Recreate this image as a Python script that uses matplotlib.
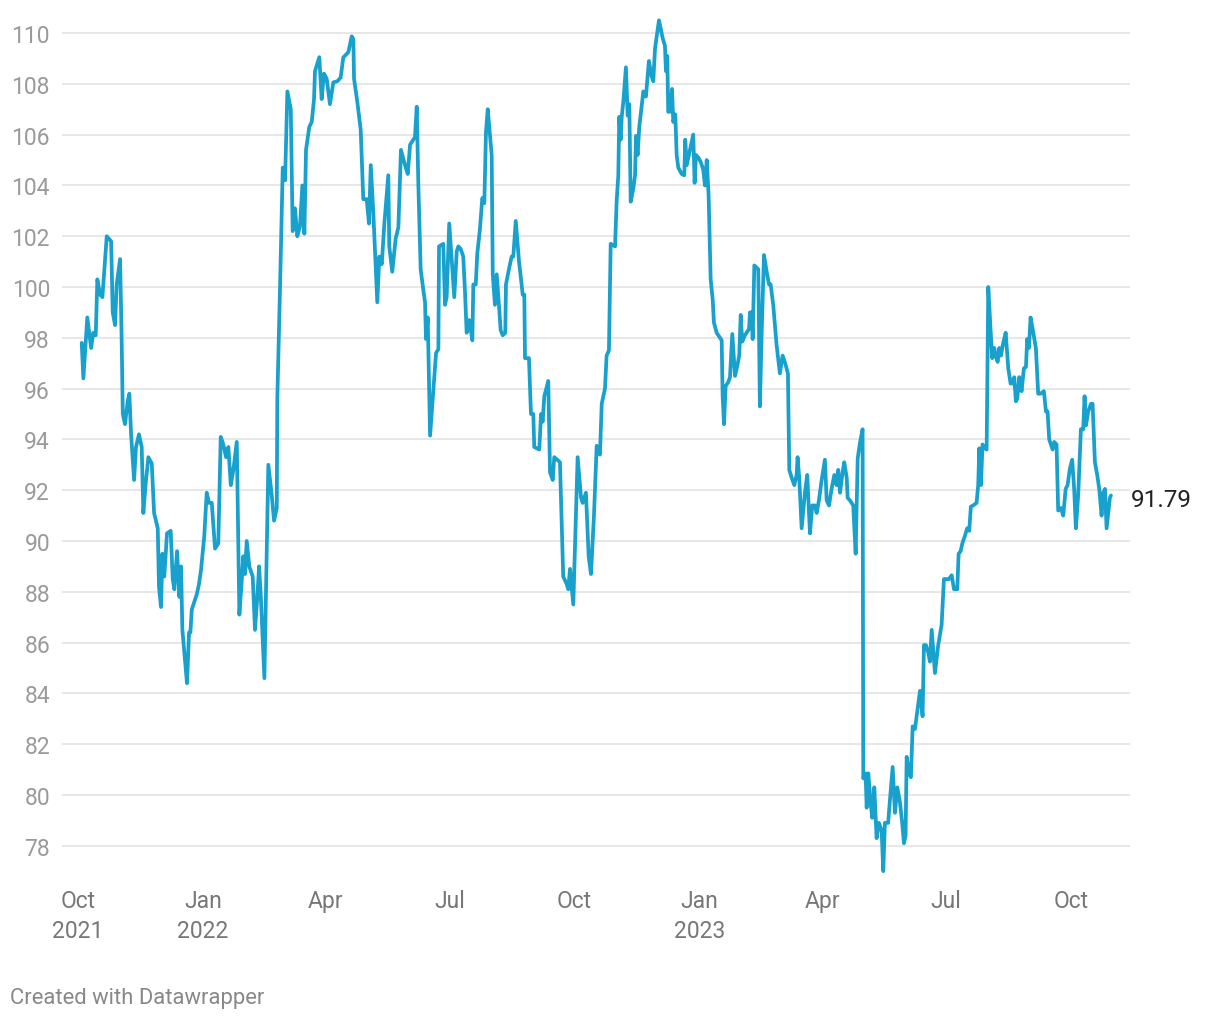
import pandas as pd
import matplotlib.pyplot as plt

plt.rcParams['font.family'] = ['Roboto', 'DejaVu Sans']

start = pd.Timestamp('2021-10-01')

# days after 1 Oct 2021
days = [
    2.7, 3.9, 6.8, 9.6, 11.2, 13.0, 14.2, 16.2, 17.9, 21.1, 24.3, 25.5, 27.2, 28.4, 30.9,
    32.1, 32.9, 34.5, 36.5, 37.7, 39.0, 41.2, 42.6, 44.8, 46.8, 48.0, 49.8, 51.7, 54.2, 55.9,
    58.6, 59.5, 61.0, 62.0, 63.4, 65.4, 68.1, 69.6, 70.8, 72.8, 74.5, 75.7, 76.7, 80.1, 81.6,
    82.6, 83.6, 87.3, 88.9, 90.4, 92.8, 94.6, 96.3, 98.3, 100.7, 103.1, 104.9, 106.8, 108.8,
    110.5, 112.3, 114.2, 116.7, 118.6, 120.3, 121.5, 122.8, 124.0, 125.9, 128.4, 130.1, 131.8,
    133.1, 134.3, 137.0, 139.9, 142.4, 144.1, 146.1, 146.5, 148.5, 150.5, 152.2, 153.9, 156.4,
    157.8, 159.5, 161.2, 163.2, 164.9, 166.4, 167.6, 170.0, 171.8, 173.5, 174.2, 177.4, 179.1,
    180.8, 182.8, 185.2, 187.7, 190.6, 193.1, 195.0, 198.7, 201.2, 202.4, 202.9, 205.3, 207.8,
    209.7, 212.2, 213.9, 215.2, 217.1, 220.0, 221.5, 223.3, 225.2, 228.1, 228.8, 231.0, 233.5,
    235.5, 237.4, 240.4, 242.4, 244.1, 246.5, 247.7, 249.0, 250.2, 251.9, 253.8, 255.1, 255.8,
    257.1, 258.8, 261.2, 263.2, 264.9, 265.4, 268.5, 269.8, 271.0, 272.9, 274.7, 276.6, 278.4,
    279.6, 281.3, 283.2, 284.5, 285.7, 287.6, 289.9, 290.6, 292.4, 293.5, 295.5, 297.2, 298.7,
    299.9, 301.2, 304.1, 304.9, 306.5, 307.8, 309.7, 310.7, 312.2, 314.1, 314.6, 316.8, 318.8,
    320.0, 321.8, 324.2, 325.7, 326.9, 328.1, 328.6, 331.5, 333.0, 334.7, 335.4, 339.1, 340.4,
    341.6, 342.8, 345.7, 347.0, 349.0, 350.1, 352.3, 354.3, 356.7, 359.3, 360.4, 361.7, 364.1,
    367.3, 369.8, 371.0, 373.4, 375.4, 377.1, 379.3, 381.3, 383.7, 385.0, 387.4, 388.6, 390.3,
    391.6, 394.8, 396.0, 397.2, 397.9, 398.9, 399.7, 400.9, 402.8, 404.1, 405.3, 406.3, 408.2,
    409.5, 410.2, 411.4, 412.6, 413.9, 415.6, 417.5, 419.7, 421.7, 422.9, 424.2, 427.1, 429.8,
    431.5, 432.2, 433.2, 433.9, 435.2, 436.7, 437.6, 439.1, 440.1, 441.3, 443.8, 445.7, 446.4,
    447.5, 449.9, 452.3, 453.3, 454.3, 456.0, 458.0, 459.7, 460.9, 462.2, 463.6, 465.1, 466.6,
    467.5, 469.5, 473.2, 473.9, 474.9, 476.1, 478.0, 479.3, 481.0, 483.0, 484.7, 486.1, 487.2,
    488.3, 490.3, 493.3, 494.0, 495.2, 496.0, 497.2, 500.1, 501.3, 502.6, 504.3, 506.3, 508.0,
    509.2, 511.1, 513.6, 516.0, 518.0, 519.9, 521.9, 522.9, 524.6, 526.6, 528.3, 529.0, 530.2,
    532.0, 534.4, 536.1, 538.1, 539.8, 541.8, 543.0, 544.7, 546.7, 549.1, 550.4, 552.1, 554.0,
    556.0, 557.7, 558.9, 560.2, 562.1, 563.3, 565.1, 565.8, 567.5, 569.9, 571.7, 573.2, 574.8,
    576.8, 577.3, 579.0, 579.8, 581.0, 582.7, 583.9, 585.4, 587.1, 588.8, 590.8, 592.0, 593.2,
    595.6, 596.9, 598.9, 600.6, 602.3, 604.3, 605.9, 607.2, 608.4, 609.2, 610.9, 612.3, 613.6,
    615.3, 617.3, 619.0, 620.9, 621.9, 623.4, 625.1, 626.3, 627.6, 630.0, 632.4, 634.9, 636.6,
    638.6, 640.3, 642.3, 644.0, 646.4, 647.4, 648.9, 650.1, 652.0, 653.7, 655.2, 656.4, 658.1,
    660.6, 661.8, 662.6, 663.8, 665.0, 666.7, 668.0, 669.2, 670.9, 672.1, 673.6, 674.8, 676.1,
    677.3, 678.5, 680.2, 682.0, 683.9, 685.6, 686.8, 688.3, 689.5, 690.5, 692.0, 693.7, 695.4,
    696.9, 697.8, 699.1, 700.3, 702.3, 704.2, 705.9, 707.7, 710.1, 711.6, 712.8, 714.0, 716.5,
    717.7, 719.4, 720.6, 722.6, 724.3, 726.1, 727.5, 729.2, 730.9, 732.4, 733.6, 735.3, 737.3,
    739.0, 740.0, 741.0, 742.7, 744.7, 745.9, 747.6, 749.3, 750.8, 752.5, 753.7, 755.0, 756.2,
    758.6, 759.4,
]

values = [
    97.8, 96.4, 98.8, 97.6, 98.2, 98.1, 100.3, 99.7, 99.6, 102.0, 101.8, 99.0, 98.5, 100.1, 101.1,
    97.8, 95.0, 94.6, 95.5, 95.8, 94.2, 92.4, 93.7, 94.2, 93.7, 91.1, 92.3, 93.3, 93.05, 91.1,
    90.5, 88.2, 87.4, 89.5, 88.6, 90.3, 90.4, 88.5, 88.1, 89.6, 87.8, 89.0, 86.5, 84.4, 86.4,
    86.4, 87.3, 87.9, 88.3, 88.85, 90.2, 91.9, 91.5, 91.5, 89.7, 89.9, 94.1, 93.8, 93.3,
    93.7, 92.2, 92.8, 93.9, 87.1, 88.4, 89.4, 88.7, 90.0, 89.0, 88.6, 86.5, 87.8,
    89.0, 87.9, 84.6, 93.0, 91.8, 90.8, 91.3, 95.6, 100.0, 104.7, 104.2, 107.7, 107.0,
    102.2, 103.1, 102.0, 102.4, 104.0, 102.1, 105.4, 106.3, 106.5, 107.4, 108.5, 109.05, 107.4,
    108.4, 108.2, 107.2, 108.06, 108.1, 108.25, 109.04, 109.24, 109.87, 109.76, 108.2, 107.3, 106.2,
    103.46, 103.46, 102.5, 104.8, 102.9, 99.4, 101.2, 100.9, 102.5, 104.4, 101.6, 100.6, 101.9,
    102.35, 105.4, 104.8, 104.45, 105.6, 105.8, 105.9, 107.1, 104.0, 100.7, 99.9, 99.4, 97.95,
    98.8, 94.15, 95.9, 97.4, 97.55, 101.6, 101.7, 99.3, 99.6, 102.5, 101.1, 99.6, 101.4,
    101.6, 101.5, 101.2, 99.8, 98.2, 98.7, 97.9, 100.1, 100.1, 101.3, 102.3, 103.5, 103.3,
    106.1, 107.0, 105.2, 100.5, 99.3, 100.5, 99.1, 98.3, 98.1, 98.2, 100.1, 100.7, 101.2,
    101.2, 102.6, 101.0, 100.3, 99.7, 99.7, 97.2, 97.2, 95.0, 95.0, 93.7, 93.6, 95.0,
    94.7, 95.7, 96.3, 92.7, 92.4, 93.3, 93.2, 93.1, 88.6, 88.3, 88.1, 88.9, 87.5,
    93.3, 91.7, 91.5, 91.9, 89.4, 88.7, 91.0, 93.75, 93.4, 95.4, 96.0, 97.3, 97.5,
    101.7, 101.6, 103.4, 104.4, 106.7, 105.8, 106.7, 107.3, 108.65, 106.75, 107.2, 103.36, 103.86,
    104.4, 105.95, 105.2, 106.3, 106.9, 107.7, 107.5, 108.9, 108.3, 108.1, 109.4, 110.5, 109.8,
    109.5, 108.5, 109.1, 106.9, 106.9, 107.8, 106.5, 106.8, 105.2, 104.7, 104.45, 104.4, 105.8,
    104.8, 105.4, 106.0, 104.1, 105.2, 105.1, 104.9, 104.6, 104.0, 105.0, 103.6, 100.3, 99.5,
    98.6, 98.2, 97.9, 95.7, 94.6, 96.1, 96.25, 96.45, 98.15, 96.5, 96.9, 97.3, 98.9,
    97.85, 98.1, 98.35, 99.0, 99.0, 97.95, 100.85, 100.7, 95.3, 98.2, 101.26, 100.6, 100.1,
    100.1, 99.3, 97.7, 96.6, 97.3, 97.0, 96.6, 92.8, 92.5, 92.2, 92.6, 93.3, 92.5,
    90.5, 91.9, 92.6, 90.3, 91.4, 91.4, 91.1, 91.6, 92.4, 93.2, 91.6, 91.4, 92.05,
    92.6, 92.2, 92.8, 91.9, 92.7, 93.1, 92.5, 91.7, 91.6, 91.4, 89.5, 93.25, 93.85,
    94.4, 80.65, 80.85, 79.5, 80.85, 79.7, 79.1, 80.3, 78.3, 78.9, 78.6, 77.0, 78.9,
    78.9, 79.8, 81.1, 79.3, 80.3, 79.7, 78.9, 78.1, 78.4, 81.5, 80.85, 80.7, 82.7,
    82.6, 83.4, 84.1, 83.1, 85.9, 85.9, 85.6, 85.25, 86.5, 84.8, 85.9, 86.7, 88.5,
    88.5, 88.5, 88.65, 88.1, 88.1, 89.5, 89.6, 89.9, 90.2, 90.5, 90.4, 91.35, 91.4,
    91.5, 92.2, 93.65, 92.2, 93.8, 93.65, 93.6, 100.0, 98.3, 97.2, 97.6, 97.25, 97.05,
    97.6, 97.3, 97.8, 98.2, 96.8, 96.2, 96.2, 96.45, 95.5, 95.6, 96.45, 95.9, 96.8,
    96.85, 97.95, 97.6, 98.8, 98.2, 97.6, 95.8, 95.8, 95.9, 95.1, 95.1, 94.0, 93.6,
    93.9, 93.8, 91.2, 91.3, 91.0, 92.05, 92.2, 92.85, 93.2, 92.0, 90.5, 91.8, 94.4,
    94.4, 95.7, 94.55, 95.1, 95.4, 95.4, 93.1, 92.6, 92.05, 91.0, 91.9, 92.05, 90.5,
    91.7, 91.79,
]

tick_dates = ['2021-10-01', '2022-01-01', '2022-04-01', '2022-07-01', '2022-10-01',
              '2023-01-01', '2023-04-01', '2023-07-01', '2023-10-01']
tick_labels = ['Oct\n2021', 'Jan\n2022', 'Apr', 'Jul', 'Oct', 'Jan\n2023', 'Apr', 'Jul', 'Oct']
y_ticks = [78, 80, 82, 84, 86, 88, 90, 92, 94, 96, 98, 100, 102, 104, 106, 108, 110]

dates = start + pd.to_timedelta(days, unit='D')

fig = plt.figure(figsize=(12.2, 10.2), dpi=100)
ax = fig.add_axes([62 / 1220, 1 - 874.7 / 1020, 1068 / 1220, (874.7 - 18.8) / 1020])

ax.plot(dates, values, color='#18a1cd', lw=2.7, solid_joinstyle='round', solid_capstyle='round')

ax.set_xlim(start - pd.Timedelta(days=11.8), start + pd.Timedelta(days=773.4))
ax.set_ylim(76.9, 110.6)

ax.set_yticks(y_ticks)
ax.set_yticklabels([str(v) for v in y_ticks])
ax.set_xticks(pd.to_datetime(tick_dates))
ax.set_xticklabels(tick_labels, linespacing=1.4)

ax.grid(axis='y', color='#e3e3e3', lw=1.2)
ax.set_axisbelow(True)
for s in ax.spines.values():
    s.set_visible(False)

ax.tick_params(axis='y', length=0, pad=8.6, labelsize=16.5, labelcolor='#9a9a9a')
ax.tick_params(axis='x', length=0, pad=11, labelsize=16.5, labelcolor='#777777')

ax.annotate(f'{values[-1]:.2f}', xy=(dates[-1], values[-1]), xytext=(14.4, -2.5),
            textcoords='offset points', va='center', ha='left',
            fontsize=17.5, color='#222222', annotation_clip=False)

fig.text(10 / 1220, 1 - 999 / 1020, 'Created with Datawrapper',
         fontsize=15.8, color='#888888', va='center', ha='left')

fig.savefig('out.png', dpi=100)
